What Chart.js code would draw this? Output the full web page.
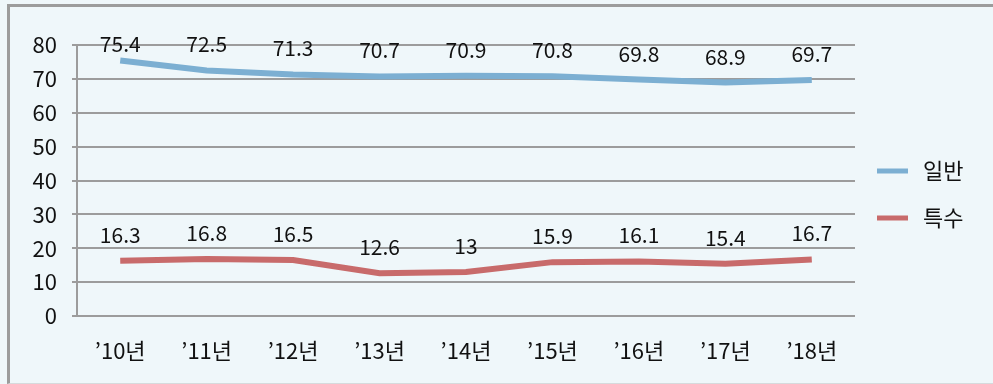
<!DOCTYPE html>
<html>
<head>
<meta charset="utf-8">
<script src="https://cdn.jsdelivr.net/npm/chart.js@4"></script>
<style>
  html, body { margin: 0; padding: 0; background: #eff7fa; }
  #wrap { position: relative; width: 993px; height: 384px; overflow: hidden; }
  #frame {
    position: absolute; left: 7px; top: 4px; right: -5px; bottom: 0;
    border-left: 3px solid #9c9c9c; border-top: 3px solid #9c9c9c;
    border-bottom: 1px solid #d6dadc; box-sizing: border-box;
  }
  canvas { position: absolute; left: 0; top: 0; }
</style>
</head>
<body>
<div id="wrap">
  <div id="frame"></div>
  <canvas id="c" width="993" height="384"></canvas>
</div>
<script>
const categories = ["\u201910년", "\u201911년", "\u201912년", "\u201913년", "\u201914년", "\u201915년", "\u201916년", "\u201917년", "\u201918년"];
const general = [75.4, 72.5, 71.3, 70.7, 70.9, 70.8, 69.8, 68.9, 69.7];
const special = [16.3, 16.8, 16.5, 12.6, 13, 15.9, 16.1, 15.4, 16.7];
const seriesNames = ["일반", "특수"];
const yTicks = [0, 10, 20, 30, 40, 50, 60, 70, 80];

const FONT = '"Noto Sans CJK KR", "Noto Sans", sans-serif';
const BLUE = '#7cafd2';
const RED = '#c86b6b';
const GRID = '#9c9c9c';

// Value labels above each point, plus a line-style legend on the right
const annotate = {
  id: 'annotate',
  afterDatasetsDraw(chart) {
    const ctx = chart.ctx;
    const area = chart.chartArea;
    ctx.save();
    ctx.font = '21px ' + FONT;
    ctx.fillStyle = '#111';
    ctx.textAlign = 'center';
    ctx.textBaseline = 'middle';
    chart.data.datasets.forEach((ds, i) => {
      chart.getDatasetMeta(i).data.forEach((pt, j) => {
        const y = Math.max(pt.y - 26, area.top - 1);
        ctx.fillText(String(ds.data[j]), pt.x, y);
      });
    });
    // legend
    const legendY = [171, 218];
    ctx.font = '22px ' + FONT;
    ctx.textAlign = 'left';
    chart.data.datasets.forEach((ds, i) => {
      ctx.strokeStyle = ds.borderColor;
      ctx.lineWidth = 5;
      ctx.beginPath();
      ctx.moveTo(877, legendY[i]);
      ctx.lineTo(908, legendY[i]);
      ctx.stroke();
      ctx.fillText(ds.label, 923, legendY[i]);
    });
    ctx.restore();
  }
};

new Chart(document.getElementById('c'), {
  type: 'line',
  data: {
    labels: categories,
    datasets: [
      { label: seriesNames[0], data: general, borderColor: BLUE, backgroundColor: BLUE },
      { label: seriesNames[1], data: special, borderColor: RED, backgroundColor: RED }
    ]
  },
  options: {
    responsive: false,
    animation: false,
    layout: { padding: { top: 45, right: 138, bottom: 0, left: 0 } },
    elements: {
      line: { borderWidth: 6, tension: 0, borderCapStyle: 'butt' },
      point: { radius: 0, hoverRadius: 0 }
    },
    plugins: { legend: { display: false }, tooltip: { enabled: false } },
    scales: {
      x: {
        offset: true,
        grid: { display: false },
        border: { display: false },
        ticks: { color: '#111', font: { family: FONT, size: 22 }, padding: 13, maxRotation: 0 },
        afterFit(s) { s.height = 68; }
      },
      y: {
        min: 0, max: 80,
        afterBuildTicks(s) { s.ticks = yTicks.map(v => ({ value: v })); },
        grid: { color: GRID, lineWidth: 2, tickLength: 5, drawTicks: true },
        border: { display: true, color: GRID, width: 2 },
        ticks: { color: '#111', font: { family: FONT, size: 22 }, padding: 15 },
        afterFit(s) { s.width = 77; }
      }
    }
  },
  plugins: [annotate]
});
</script>
</body>
</html>
